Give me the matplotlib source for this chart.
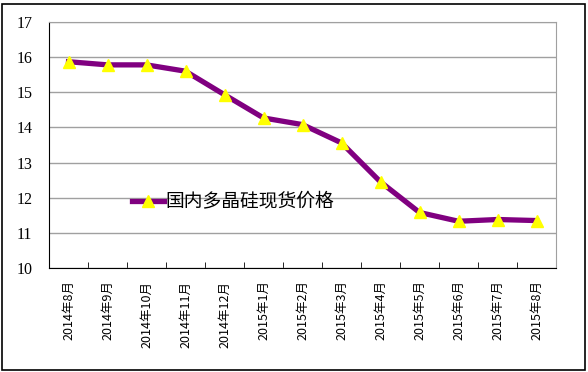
import matplotlib.pyplot as plt
from matplotlib.patches import Rectangle

plt.rcParams['font.family'] = ['Noto Sans CJK SC', 'DejaVu Sans']

# data
months = ['2014年8月', '2014年9月', '2014年10月', '2014年11月', '2014年12月',
          '2015年1月', '2015年2月', '2015年3月', '2015年4月', '2015年5月',
          '2015年6月', '2015年7月', '2015年8月']
prices = [15.87, 15.78, 15.78, 15.6, 14.93, 14.27, 14.08, 13.56, 12.45,
          11.58, 11.33, 11.38, 11.35]
series_name = '国内多晶硅现货价格'

fig = plt.figure(figsize=(5.88, 3.72), dpi=100)
ax = fig.add_axes([49 / 588, 1 - 268 / 372, 507 / 588, 246 / 372])

x = list(range(len(months)))
ax.plot(x, prices, color='#800080', linewidth=3.8, marker='^',
        markersize=9, markerfacecolor='#ffff00', markeredgecolor='#ffff00',
        label=series_name, zorder=3)

ax.set_xlim(-0.5, len(months) - 0.5)
ax.set_ylim(10, 17)
ax.set_yticks(range(10, 18))
ax.yaxis.grid(True, color='#a0a0a0', linewidth=1)
ax.set_axisbelow(True)

ax.set_xticks(x)
ax.set_xticklabels(months, rotation=90, fontsize=9)
ax.tick_params(axis='x', length=0, pad=9)
ax.set_xticks([i + 0.5 for i in range(-1, len(months))], minor=True)
ax.tick_params(axis='x', which='minor', direction='in', length=4, color='black')
ax.tick_params(axis='y', length=0, labelsize=11.5, pad=12)
for lbl in ax.get_yticklabels():
    lbl.set_family(['Liberation Serif', 'DejaVu Serif'])

ax.spines['left'].set_color('black')
ax.spines['bottom'].set_color('black')
ax.spines['right'].set_color('#a0a0a0')
ax.spines['top'].set_color('#a0a0a0')

leg = ax.legend(loc='center left', bbox_to_anchor=(0.13, 0.27), frameon=False,
                fontsize=13.5, handlelength=1.7, handletextpad=0.1)

# outer chart border
fig.patches.append(Rectangle((2 / 588, 2 / 372), 583 / 588, 366 / 372,
                             transform=fig.transFigure, fill=False,
                             edgecolor='black', linewidth=1.2))

fig.savefig('out.png', dpi=100)
